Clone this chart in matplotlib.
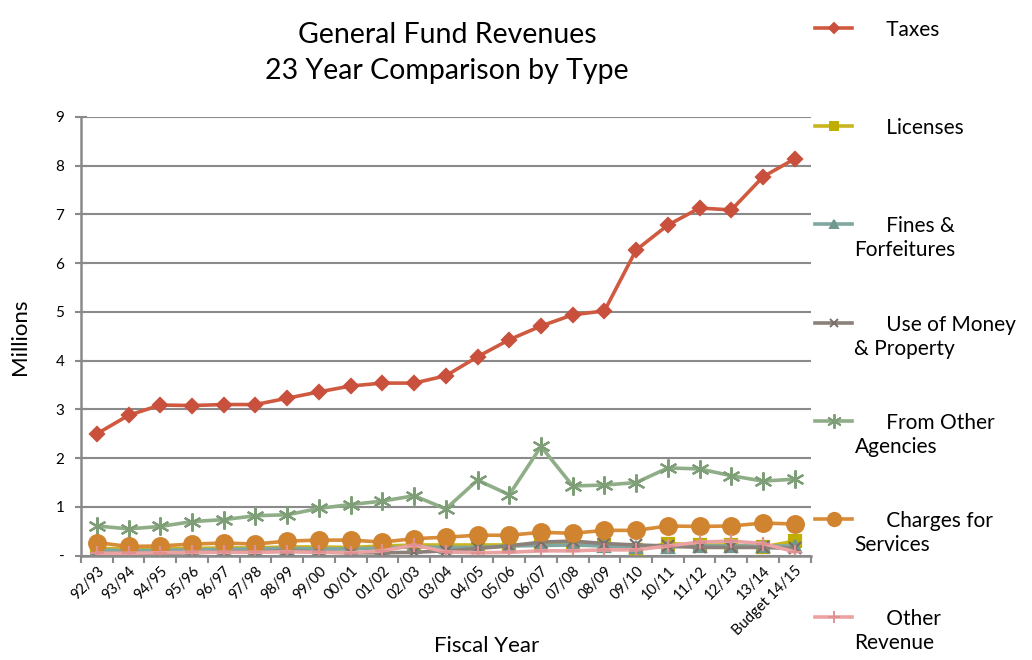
import matplotlib.pyplot as plt
from matplotlib.lines import Line2D
import numpy as np

plt.rcParams['font.family'] = ['Lato', 'DejaVu Sans']

years = ['92/93', '93/94', '94/95', '95/96', '96/97', '97/98', '98/99', '99/00',
         '00/01', '01/02', '02/03', '03/04', '04/05', '05/06', '06/07', '07/08',
         '08/09', '09/10', '10/11', '11/12', '12/13', '13/14', 'Budget 14/15']

# revenue by type, millions
taxes = [2.50, 2.88, 3.09, 3.08, 3.10, 3.10, 3.23, 3.36, 3.48, 3.54, 3.54,
         3.69, 4.08, 4.43, 4.71, 4.94, 5.02, 6.27, 6.78, 7.13, 7.09, 7.77, 8.14]
licenses = [0.15, 0.14, 0.14, 0.15, 0.16, 0.16, 0.18, 0.18, 0.17, 0.20, 0.22,
            0.22, 0.22, 0.22, 0.24, 0.24, 0.22, 0.12, 0.25, 0.22, 0.22, 0.18, 0.30]
fines = [0.12, 0.10, 0.11, 0.12, 0.13, 0.14, 0.15, 0.14, 0.14, 0.16, 0.18,
         0.17, 0.17, 0.20, 0.21, 0.22, 0.20, 0.18, 0.18, 0.20, 0.20, 0.20, 0.20]
money = [0.05, 0.04, 0.05, 0.06, 0.08, 0.08, 0.10, 0.08, 0.06, 0.06, 0.07,
         0.10, 0.15, 0.20, 0.28, 0.30, 0.25, 0.22, 0.20, 0.17, 0.17, 0.17, 0.15]
agencies = [0.61, 0.55, 0.60, 0.70, 0.74, 0.82, 0.84, 0.97, 1.05, 1.12, 1.23,
            0.96, 1.55, 1.25, 2.24, 1.43, 1.45, 1.50, 1.80, 1.78, 1.64, 1.53, 1.57]
charges = [0.27, 0.19, 0.20, 0.24, 0.26, 0.24, 0.30, 0.32, 0.32, 0.28, 0.35,
           0.38, 0.42, 0.42, 0.48, 0.46, 0.52, 0.52, 0.61, 0.60, 0.61, 0.67, 0.65]
other = [0.05, 0.05, 0.06, 0.07, 0.07, 0.07, 0.08, 0.07, 0.06, 0.10, 0.22,
         0.08, 0.06, 0.07, 0.10, 0.10, 0.12, 0.12, 0.20, 0.28, 0.30, 0.25, 0.08]

labels = ['      Taxes', '      Licenses', '      Fines &\nForfeitures',
          '      Use of Money\n& Property', '      From Other\nAgencies',
          '      Charges for\nServices', '      Other\nRevenue']

styles = [
    (taxes, '#CF5A40', '#C8503C', 'D', 7),
    (licenses, '#C9B520', '#BFAE00', 's', 8),
    (fines, '#7FA6A0', '#6F9890', '^', 8),
    (money, '#8C807A', '#7A6E68', 'x', 8),
    (agencies, '#8FAE88', '#7E9E78', (6, 2, 0), 13),
    (charges, '#D88C38', '#D08430', 'o', 12),
    (other, '#EAA2A2', '#E09090', '+', 10),
]

fig = plt.figure(figsize=(10.32, 6.6), dpi=100)
ax = fig.add_axes([0.0785, 0.158, 0.707, 0.665])

x = np.arange(len(years))
for vals, col, mcol, mk, ms in styles:
    ax.plot(x, vals, color=col, lw=2.6, marker=mk, markersize=ms,
            markerfacecolor=mcol, markeredgecolor=mcol, markeredgewidth=1.6)

ax.set_xlim(-0.5, len(years) - 0.5)
ax.set_ylim(0, 9)
ax.set_yticks(range(10))
ax.set_yticklabels(['-'] + [str(i) for i in range(1, 10)], fontsize=11)
ax.yaxis.grid(True, color='#8a8a8a', lw=1.5)
ax.set_axisbelow(True)

ax.set_xticks(x)
ax.set_xticklabels(years, rotation=45, ha='right', rotation_mode='anchor', fontsize=10.5)
ax.tick_params(axis='x', length=0, pad=6)
ax.set_xticks(np.arange(-0.5, len(years)), minor=True)
ax.tick_params(axis='x', which='minor', length=5, width=1.5, color='#8a8a8a')
ax.tick_params(axis='y', length=8, width=1.5, color='#8a8a8a', direction='inout', pad=8)

for s in ['top', 'right']:
    ax.spines[s].set_visible(False)
for s in ['left', 'bottom']:
    ax.spines[s].set_color('#8a8a8a')
    ax.spines[s].set_linewidth(1.8)

ax.set_ylabel('Millions', fontsize=16, labelpad=18)
ax.set_xlabel('Fiscal Year', fontsize=16)
ax.xaxis.set_label_coords(0.556, -0.183)

fig.text(0.433, 0.92, 'General Fund Revenues\n23 Year Comparison by Type',
         ha='center', va='center', fontsize=20.5, linespacing=1.45)

# legend column on the right
for i, (vals, col, mcol, mk, ms) in enumerate(styles):
    yy = 1 - (28 + i * 98.2) / 660
    fig.add_artist(Line2D([0.790, 0.826], [yy, yy], transform=fig.transFigure,
                          color=col, lw=2.6))
    fig.add_artist(Line2D([0.808], [yy], transform=fig.transFigure, marker=mk,
                          markersize=ms * 0.8, markerfacecolor=mcol,
                          markeredgecolor=mcol, markeredgewidth=1.4))
    fig.text(0.828, yy + 0.012, labels[i], ha='left', va='top', fontsize=15,
             linespacing=1.25)

fig.savefig('out.png', dpi=100)
